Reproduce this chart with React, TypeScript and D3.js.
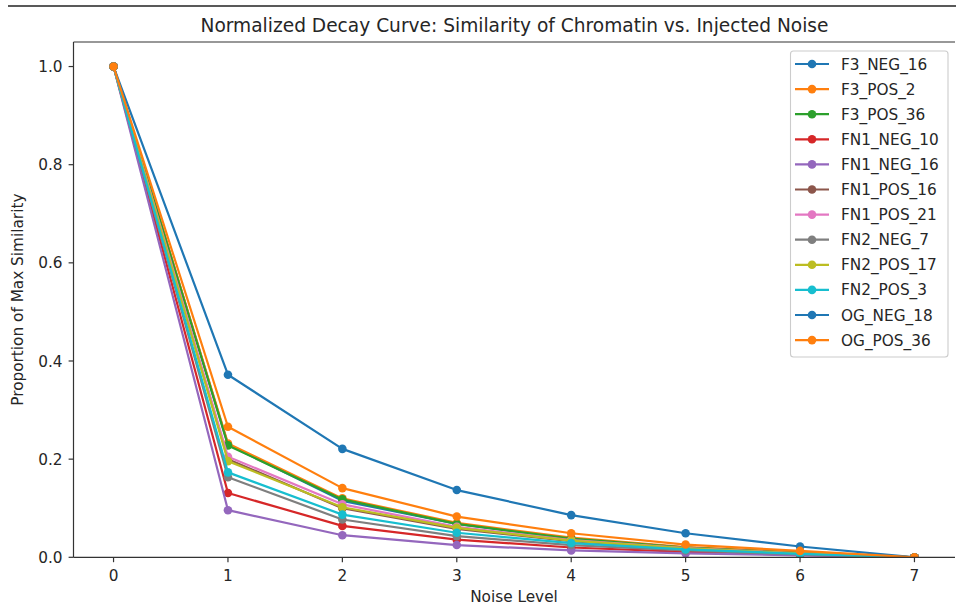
import React from "react";
import * as d3 from "d3";

const noiseLevels = [0, 1, 2, 3, 4, 5, 6, 7];
const seriesNames = [
  "F3_NEG_16", "F3_POS_2", "F3_POS_36", "FN1_NEG_10", "FN1_NEG_16", "FN1_POS_16",
  "FN1_POS_21", "FN2_NEG_7", "FN2_POS_17", "FN2_POS_3", "OG_NEG_18", "OG_POS_36",
];
const F3_NEG_16 = [1, 0.23, 0.115, 0.068, 0.038, 0.02, 0.009, 0];
const F3_POS_2 = [1, 0.232, 0.12, 0.07, 0.04, 0.021, 0.01, 0];
const F3_POS_36 = [1, 0.228, 0.118, 0.068, 0.038, 0.02, 0.009, 0];
const FN1_NEG_10 = [1, 0.131, 0.064, 0.036, 0.02, 0.011, 0.005, 0];
const FN1_NEG_16 = [1, 0.096, 0.045, 0.025, 0.014, 0.008, 0.004, 0];
const FN1_POS_16 = [1, 0.2, 0.1, 0.058, 0.033, 0.018, 0.008, 0];
const FN1_POS_21 = [1, 0.205, 0.108, 0.062, 0.035, 0.019, 0.008, 0];
const FN2_NEG_7 = [1, 0.163, 0.077, 0.043, 0.025, 0.014, 0.006, 0];
const FN2_POS_17 = [1, 0.196, 0.102, 0.06, 0.034, 0.018, 0.008, 0];
const FN2_POS_3 = [1, 0.173, 0.087, 0.05, 0.029, 0.016, 0.007, 0];
const OG_NEG_18 = [1, 0.372, 0.221, 0.137, 0.086, 0.049, 0.022, 0];
const OG_POS_36 = [1, 0.266, 0.141, 0.083, 0.049, 0.026, 0.013, 0];
const seriesValues = [
  F3_NEG_16, F3_POS_2, F3_POS_36, FN1_NEG_10, FN1_NEG_16, FN1_POS_16,
  FN1_POS_21, FN2_NEG_7, FN2_POS_17, FN2_POS_3, OG_NEG_18, OG_POS_36,
];
const yTicks = [0, 0.2, 0.4, 0.6, 0.8, 1.0];
const xTicks = [0, 1, 2, 3, 4, 5, 6, 7];
const colors = [
  "#1f77b4", "#ff7f0e", "#2ca02c", "#d62728", "#9467bd", "#8c564b",
  "#e377c2", "#7f7f7f", "#bcbd22", "#17becf",
];

const W = 956;
const H = 605;
const FONT = "DejaVu Sans, sans-serif";
const FS = 15.3;
const TITLE_FS = 18.6;
const TEXT_COLOR = "#262626";

export default function App() {
  const left = 73.5, right = 955, top = 42, bottom = 557.3;
  const x = d3.scaleLinear().domain([-0.35, 7.35]).range([left, left + 881]);
  const y = d3.scaleLinear().domain([0, 1.05]).range([bottom, top]);
  const line = d3
    .line<[number, number]>()
    .x((d) => x(d[0]))
    .y((d) => y(d[1]));

  const legX = 790.5, legY = 51, legW = 157.5, legH = 306;
  const rowH = 25.1;

  return (
    <div style={{ position: "fixed", left: 0, top: 0, margin: 0 }}>
      <svg width={W} height={H} style={{ display: "block", background: "#fff" }}>
        <line x1={8} x2={956} y1={6} y2={6} stroke="#222" strokeWidth={1.6} />
        <defs>
          <clipPath id="plotclip">
            <rect x={left} y={top} width={right - left} height={bottom - top} />
          </clipPath>
        </defs>
        <g clipPath="url(#plotclip)">
          {seriesValues.map((vals, i) => {
            const pts: [number, number][] = noiseLevels.map((n, j) => [n, vals[j]]);
            const c = colors[i % colors.length];
            return (
              <g key={seriesNames[i]}>
                <path d={line(pts) || ""} fill="none" stroke={c} strokeWidth={2.2} strokeLinejoin="round" strokeLinecap="square" />
                {pts.map((p, j) => (
                  <circle key={j} cx={x(p[0])} cy={y(p[1])} r={4.3} fill={c} />
                ))}
              </g>
            );
          })}
        </g>
        {/* spines */}
        <line x1={left} x2={left} y1={top} y2={bottom} stroke="#333" strokeWidth={1.2} />
        <line x1={left} x2={right} y1={bottom} y2={bottom} stroke="#333" strokeWidth={1.2} />
        <line x1={left} x2={right} y1={top} y2={top} stroke="#333" strokeWidth={1.2} />
        {/* y ticks */}
        {yTicks.map((t) => (
          <g key={t}>
            <line x1={left - 4.9} x2={left} y1={y(t)} y2={y(t)} stroke="#333" strokeWidth={1.2} />
            <text x={left - 11} y={y(t)} dy="0.36em" textAnchor="end" fontFamily={FONT} fontSize={FS} fill={TEXT_COLOR}>
              {t.toFixed(1)}
            </text>
          </g>
        ))}
        {/* x ticks */}
        {xTicks.map((t) => (
          <g key={t}>
            <line x1={x(t)} x2={x(t)} y1={bottom} y2={bottom + 4.9} stroke="#333" strokeWidth={1.2} />
            <text x={x(t)} y={bottom + 24} textAnchor="middle" fontFamily={FONT} fontSize={FS} fill={TEXT_COLOR}>
              {t}
            </text>
          </g>
        ))}
        <text x={514.5} y={32} textAnchor="middle" fontFamily={FONT} fontSize={TITLE_FS} fill={TEXT_COLOR}>
          Normalized Decay Curve: Similarity of Chromatin vs. Injected Noise
        </text>
        <text x={514} y={602} textAnchor="middle" fontFamily={FONT} fontSize={FS} fill={TEXT_COLOR}>
          Noise Level
        </text>
        <text
          transform={`translate(23, ${(top + bottom) / 2}) rotate(-90)`}
          textAnchor="middle"
          fontFamily={FONT}
          fontSize={FS}
          fill={TEXT_COLOR}
        >
          Proportion of Max Similarity
        </text>
        {/* legend */}
        <rect x={legX} y={legY} width={legW} height={legH} rx={3} fill="#fff" fillOpacity={0.8} stroke="#cccccc" strokeWidth={1.1} />
        {seriesNames.map((name, i) => {
          const cy = legY + 13 + i * rowH;
          const c = colors[i % colors.length];
          return (
            <g key={name}>
              <line x1={795} x2={829} y1={cy} y2={cy} stroke={c} strokeWidth={2.2} />
              <circle cx={812} cy={cy} r={4.3} fill={c} />
              <text x={841} y={cy} dy="0.36em" fontFamily={FONT} fontSize={FS} fill={TEXT_COLOR}>
                {name}
              </text>
            </g>
          );
        })}
      </svg>
    </div>
  );
}
